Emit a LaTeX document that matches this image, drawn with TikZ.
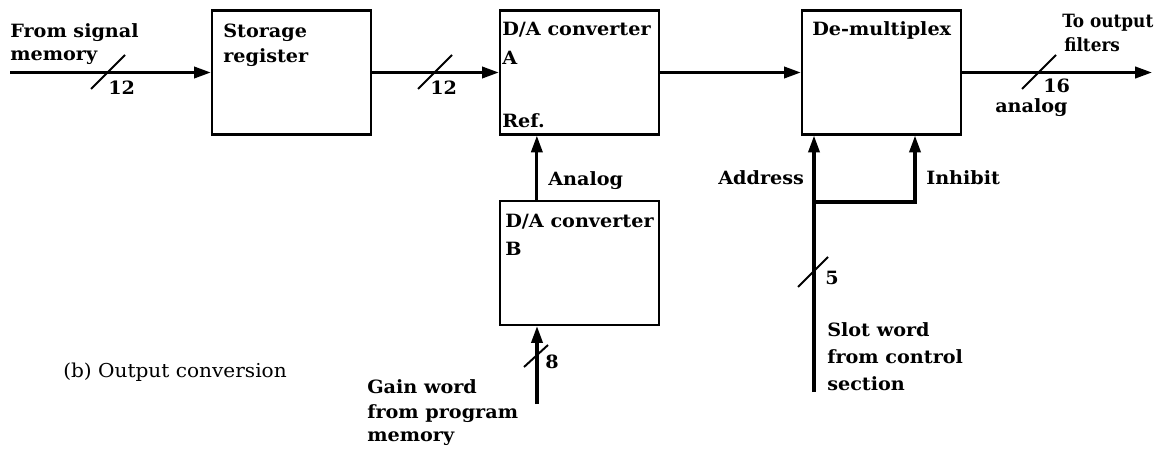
\documentclass[tikz,border=0pt]{standalone}
\usepackage{fontspec}
\usepackage{graphicx}
\setmainfont{DejaVu Serif}[FakeStretch=1.05]
\usetikzlibrary{arrows.meta,calc}
\tikzset{
  blk/.style={draw, line width=1.6pt, minimum width=3.975cm, minimum height=3.1cm, inner sep=0pt},
  conn/.style={line width=2.2pt, -{Triangle[length=0.42cm,width=0.28cm]}},
  slash/.style={line width=1.4pt},
  lbl/.style={anchor=base west, inner sep=0pt, font=\bfseries\fontsize{13}{15}\selectfont},
  captext/.style={anchor=base west, inner sep=0pt, font=\fontsize{13.6}{15}\selectfont}
}
\newcommand{\narrowtext}[1]{\scalebox{0.88}[1]{#1}}
\begin{document}
\begin{tikzpicture}[x=0.025cm, y=-0.025cm, line join=miter]
\useasboundingbox (0,0) rectangle (1169,452);
% boxes
\node[blk] (sr) at (291.5,72.5) {};
\node[blk] (da) at (579.5,72.5) {};
\node[blk] (dm) at (881.5,72.5) {};
\node[blk] (db) at (579.5,263) {};
% box labels
\node[lbl] (sr1) at (223,38) {Storage};
\node[lbl] (sr2) at (223,63) {register};
\node[lbl] (da1) at (502,36) {D/A converter};
\node[lbl] (da2) at (502,65) {A};
\node[lbl] (da3) at (502,128) {Ref.};
\node[lbl] (dm1) at (812,36) {De-multiplex};
\node[lbl] (db1) at (505,228) {D/A converter};
\node[lbl] (db2) at (505,256) {B};
% coordinates
\coordinate (in) at (10,72.5);
\coordinate (out) at (1152,72.5);
\coordinate (gain) at (537,404);
\coordinate (slot) at (814,392);
\coordinate (jn) at (814,202);
\coordinate (inh) at (915,202);
% connectors
\draw[conn] (in) -- (sr.west);
\draw[conn] (sr.east) -- (da.west);
\draw[conn] (da.east) -- (dm.west);
\draw[conn] (dm.east) -- (out);
\draw[conn] ($(db.north west)+(38,0)$) -- ($(da.south west)+(38,0)$);
\draw[conn] (gain) -- (gain |- db.south);
\draw[conn] (slot) -- (slot |- dm.south);
\draw[conn] (jn) -- (inh) -- (inh |- dm.south);
% bus slashes
\draw[slash] (108,72) ++(-17,17) -- ++(34,-34);
\draw[slash] (435,72) ++(-17,17) -- ++(34,-34);
\draw[slash] (1039,72) ++(-17,17) -- ++(34,-34);
\draw[slash] (536,356) ++(-12,11) -- ++(24,-22);
\draw[slash] (813,272) ++(-15,15) -- ++(30,-30);
% labels
\node[lbl] (t1a) at (10,38) {From signal};
\node[lbl] (t1b) at (10,61) {memory};
\node[lbl] (n12a) at (108,95) {12};
\node[lbl] (n12b) at (430,95) {12};
\node[lbl] (t2a) at (1062,28) {\narrowtext{To output}};
\node[lbl] (t2b) at (1064,52) {\narrowtext{filters}};
\node[lbl] (n16) at (1043,93) {16};
\node[lbl] (tan) at (995,113) {analog};
\node[lbl] (tAn) at (548,186) {Analog};
\node[lbl] (tAd) at (718,185) {Address};
\node[lbl] (tIn) at (926,185) {Inhibit};
\node[lbl] (n8) at (545,368) {8};
\node[lbl] (n5) at (825,285) {5};
\node[lbl] (g1) at (367,393) {Gain word};
\node[lbl] (g2) at (367,418) {from program};
\node[lbl] (g3) at (367,441) {memory};
\node[lbl] (s1) at (827,336) {Slot word};
\node[lbl] (s2) at (827,363) {from control};
\node[lbl] (s3) at (827,390) {section};
\node[captext] (capt) at (63,377) {(b) Output conversion};
\end{tikzpicture}
\end{document}
